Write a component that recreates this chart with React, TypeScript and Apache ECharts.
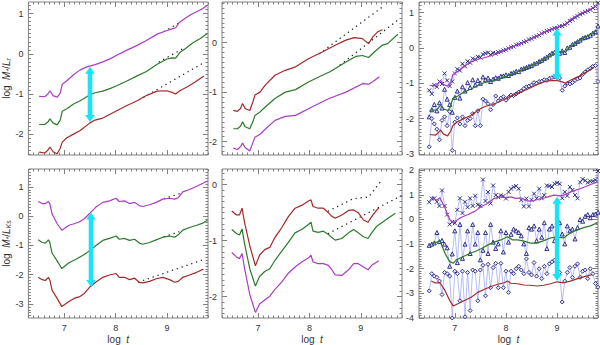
import React, { useEffect, useRef } from 'react';
import * as echarts from 'echarts';

// ---------- axes ----------
const X_MIN = 6.3;
const X_MAX = 9.8;
const xMajor = [7, 8, 9];
const yRanges = [
  [-2.52, 1.29], [-2.27, 0.82], [-3.03, 1.3],
  [-3.48, 1.61], [-2.38, 0.28], [-4.0, 2.05],
];
const yMajors = [
  [-2, -1, 0, 1], [-2, -1, 0], [-3, -2, -1, 0, 1],
  [-3, -2, -1, 0, 1], [-2, -1, 0], [-4, -3, -2, -1, 0, 1, 2],
];

// ---------- panel 1 (top-left, r band) ----------
const p1Purple = [[6.51,-1.06],[6.62,-1.07],[6.68,-1.0],[6.72,-0.92],[6.78,-1.04],[6.86,-1.08],[6.92,-0.98],[6.96,-0.76],[7.05,-0.67],[7.18,-0.52],[7.31,-0.40],[7.45,-0.32],[7.6,-0.27],[7.75,-0.2],[7.9,-0.12],[8.03,-0.03],[8.2,0.08],[8.42,0.21],[8.6,0.33],[8.81,0.49],[9.0,0.58],[9.1,0.62],[9.17,0.65],[9.24,0.78],[9.35,0.88],[9.47,0.98],[9.6,1.06],[9.7,1.13],[9.78,1.2]];
const p1Green = [[6.51,-1.76],[6.62,-1.76],[6.68,-1.7],[6.72,-1.62],[6.78,-1.72],[6.86,-1.77],[6.92,-1.65],[6.96,-1.43],[7.05,-1.37],[7.18,-1.25],[7.31,-1.17],[7.5,-1.02],[7.6,-0.97],[7.75,-0.93],[7.9,-0.86],[8.03,-0.79],[8.2,-0.69],[8.42,-0.55],[8.6,-0.44],[8.81,-0.26],[9.0,-0.13],[9.1,-0.1],[9.17,-0.11],[9.25,0.03],[9.35,0.12],[9.5,0.27],[9.65,0.38],[9.78,0.5]];
const p1Red = [[6.51,-2.45],[6.62,-2.47],[6.68,-2.4],[6.72,-2.32],[6.78,-2.44],[6.86,-2.49],[6.92,-2.35],[6.96,-2.2],[7.05,-2.09],[7.18,-2.0],[7.31,-1.91],[7.5,-1.72],[7.6,-1.65],[7.75,-1.6],[7.9,-1.5],[8.03,-1.41],[8.2,-1.3],[8.42,-1.17],[8.6,-1.04],[8.81,-0.93],[9.0,-0.92],[9.1,-0.96],[9.17,-1.0],[9.25,-0.92],[9.4,-0.82],[9.55,-0.7],[9.72,-0.55]];
const p1PurpleDot = [[8.95,0.56],[9.28,0.8]];
const p1GreenDot = [[8.85,-0.2],[9.3,0.12]];
const p1RedDot = [[8.55,-1.08],[9.72,-0.22]];

// ---------- panel 2 (top-middle) ----------
const p2Red = [[6.52,-1.37],[6.6,-1.39],[6.66,-1.33],[6.70,-1.23],[6.75,-1.33],[6.84,-1.37],[6.9,-1.2],[6.94,-1.06],[7.04,-1.0],[7.14,-0.86],[7.33,-0.66],[7.53,-0.56],[7.73,-0.49],[7.99,-0.32],[8.25,-0.19],[8.51,-0.05],[8.71,0.05],[8.87,0.1],[9.03,0.08],[9.11,0.01],[9.15,-0.02],[9.23,0.11],[9.33,0.22],[9.42,0.26]];
const p2Green = [[6.52,-1.74],[6.6,-1.74],[6.66,-1.69],[6.70,-1.60],[6.75,-1.7],[6.84,-1.74],[6.9,-1.6],[6.94,-1.47],[7.04,-1.40],[7.14,-1.3],[7.33,-1.13],[7.53,-1.0],[7.73,-0.95],[7.99,-0.79],[8.25,-0.66],[8.4,-0.59],[8.71,-0.39],[8.9,-0.28],[9.03,-0.26],[9.15,-0.30],[9.26,-0.19],[9.42,-0.05],[9.52,-0.02],[9.72,0.17]];
const p2Purple = [[6.52,-2.13],[6.6,-2.16],[6.66,-2.1],[6.70,-2.03],[6.75,-2.12],[6.84,-2.19],[6.9,-2.02],[6.94,-1.91],[7.04,-1.85],[7.14,-1.75],[7.33,-1.57],[7.53,-1.49],[7.73,-1.47],[7.99,-1.33],[8.38,-1.13],[8.71,-1.0],[9.03,-0.83],[9.15,-0.84],[9.23,-0.79],[9.36,-0.69]];
const p2RedDot = [[8.2,-0.22],[9.42,0.72]];
const p2GreenDot = [[8.6,-0.45],[9.75,0.48]];

// ---------- panel 4 (bottom-left, Ks band) ----------
const p4Purple = [[6.49,0.5],[6.57,0.43],[6.63,0.43],[6.69,0.5],[6.72,0.41],[6.76,0.08],[6.86,-0.26],[6.95,-0.48],[7.0,-0.42],[7.09,-0.31],[7.19,-0.26],[7.29,-0.2],[7.39,-0.09],[7.5,0.1],[7.61,0.3],[7.75,0.47],[7.88,0.52],[8.01,0.61],[8.07,0.5],[8.17,0.52],[8.27,0.43],[8.37,0.47],[8.46,0.36],[8.53,0.33],[8.66,0.39],[8.79,0.47],[8.92,0.58],[9.05,0.61],[9.15,0.58],[9.22,0.63],[9.31,0.83],[9.44,0.91],[9.58,1.02],[9.71,1.13],[9.79,1.2]];
const p4Green = [[6.49,-0.81],[6.57,-0.9],[6.63,-0.92],[6.69,-0.81],[6.72,-0.92],[6.76,-1.26],[6.86,-1.53],[6.95,-1.79],[7.0,-1.72],[7.09,-1.59],[7.22,-1.48],[7.39,-1.31],[7.5,-1.17],[7.61,-1.01],[7.75,-0.83],[7.88,-0.76],[8.01,-0.68],[8.07,-0.79],[8.17,-0.76],[8.27,-0.83],[8.37,-0.79],[8.46,-0.92],[8.53,-0.96],[8.66,-0.9],[8.79,-0.81],[8.92,-0.72],[9.05,-0.68],[9.15,-0.72],[9.22,-0.64],[9.31,-0.48],[9.44,-0.39],[9.58,-0.31],[9.71,-0.23],[9.79,-0.14]];
const p4Red = [[6.49,-2.09],[6.57,-2.17],[6.63,-2.2],[6.69,-2.09],[6.72,-2.2],[6.76,-2.53],[6.86,-2.81],[6.95,-3.09],[7.0,-3.03],[7.09,-2.92],[7.19,-2.81],[7.29,-2.76],[7.39,-2.64],[7.5,-2.42],[7.61,-2.26],[7.75,-2.09],[7.88,-2.01],[8.01,-1.96],[8.07,-2.09],[8.17,-2.09],[8.27,-2.17],[8.37,-2.12],[8.46,-2.26],[8.53,-2.28],[8.66,-2.23],[8.79,-2.14],[8.92,-2.09],[9.05,-2.17],[9.15,-2.26],[9.22,-2.23],[9.31,-2.09],[9.44,-2.01],[9.58,-1.92],[9.71,-1.81]];
const p4PurpleDot = [[8.95,0.6],[9.3,0.8]];
const p4GreenDot = [[8.95,-0.7],[9.3,-0.5]];
const p4RedDot = [[8.45,-2.25],[9.72,-1.48]];

// ---------- panel 5 (bottom-middle) ----------
const p5Red = [[6.49,-0.47],[6.58,-0.54],[6.64,-0.54],[6.69,-0.42],[6.74,-0.68],[6.84,-1.09],[6.95,-1.45],[7.03,-1.26],[7.13,-1.16],[7.23,-1.12],[7.33,-0.94],[7.46,-0.77],[7.59,-0.57],[7.72,-0.42],[7.85,-0.37],[7.98,-0.29],[8.03,-0.27],[8.07,-0.39],[8.17,-0.42],[8.27,-0.42],[8.37,-0.5],[8.43,-0.56],[8.5,-0.6],[8.63,-0.54],[8.76,-0.46],[8.86,-0.45],[8.95,-0.5],[9.05,-0.63],[9.14,-0.67],[9.21,-0.57],[9.31,-0.45],[9.35,-0.42]];
const p5Green = [[6.49,-0.8],[6.58,-0.87],[6.64,-0.9],[6.69,-0.79],[6.74,-1.06],[6.84,-1.5],[6.95,-1.81],[7.03,-1.64],[7.13,-1.55],[7.23,-1.5],[7.33,-1.35],[7.46,-1.19],[7.59,-1.03],[7.72,-0.86],[7.85,-0.8],[7.98,-0.71],[8.03,-0.67],[8.07,-0.83],[8.17,-0.85],[8.27,-0.83],[8.37,-0.89],[8.43,-0.94],[8.5,-0.99],[8.63,-0.96],[8.76,-0.86],[8.86,-0.8],[8.95,-0.86],[9.05,-0.93],[9.14,-0.96],[9.21,-0.86],[9.31,-0.74],[9.48,-0.63],[9.67,-0.51]];
const p5Purple = [[6.49,-1.21],[6.58,-1.29],[6.64,-1.32],[6.69,-1.23],[6.74,-1.5],[6.84,-1.96],[6.95,-2.28],[7.03,-2.13],[7.13,-2.06],[7.23,-1.99],[7.33,-1.87],[7.46,-1.74],[7.59,-1.58],[7.72,-1.47],[7.85,-1.38],[7.98,-1.31],[8.03,-1.26],[8.07,-1.38],[8.17,-1.41],[8.27,-1.41],[8.37,-1.44],[8.43,-1.51],[8.5,-1.61],[8.63,-1.62],[8.76,-1.52],[8.86,-1.41],[8.95,-1.41],[9.05,-1.47],[9.14,-1.52],[9.21,-1.44],[9.35,-1.36]];
const p5RedDot = [[8.37,-0.47],[8.85,-0.25],[9.15,-0.22],[9.37,0.04]];
const p5GreenDot = [[8.37,-0.87],[9.78,-0.2]];

// ---------- panel 6 curves (bottom-right) ----------
const p6Purple = [[6.54,0.88],[6.65,0.79],[6.71,0.88],[6.81,0.46],[6.9,0.0],[6.97,-0.13],[7.03,-0.04],[7.13,0.09],[7.26,0.2],[7.39,0.33],[7.52,0.53],[7.65,0.66],[7.77,0.86],[7.9,0.92],[8.0,0.88],[8.1,0.92],[8.19,0.86],[8.29,0.88],[8.42,0.75],[8.52,0.75],[8.65,0.83],[8.77,0.89],[8.94,0.99],[9.06,0.96],[9.16,1.01],[9.29,1.14],[9.45,1.25],[9.61,1.38],[9.77,1.51]];
const p6Green = [[6.54,-0.99],[6.65,-0.92],[6.71,-0.86],[6.81,-1.38],[6.9,-1.71],[6.97,-1.78],[7.03,-1.64],[7.16,-1.51],[7.29,-1.38],[7.42,-1.28],[7.52,-1.18],[7.65,-1.03],[7.77,-0.92],[7.9,-0.83],[8.03,-0.7],[8.13,-0.83],[8.23,-0.83],[8.35,-0.88],[8.48,-0.96],[8.61,-0.96],[8.74,-0.86],[8.87,-0.75],[9.0,-0.72],[9.13,-0.75],[9.23,-0.59],[9.35,-0.46],[9.52,-0.33],[9.65,-0.26],[9.79,-0.13]];
const p6Red = [[6.54,-2.5],[6.61,-2.57],[6.71,-2.57],[6.81,-2.89],[6.9,-3.29],[6.97,-3.51],[7.06,-3.42],[7.19,-3.29],[7.32,-3.16],[7.45,-2.96],[7.58,-2.83],[7.71,-2.72],[7.84,-2.63],[7.97,-2.57],[8.03,-2.5],[8.1,-2.59],[8.23,-2.61],[8.35,-2.66],[8.48,-2.67],[8.61,-2.7],[8.74,-2.67],[8.87,-2.61],[9.0,-2.53],[9.13,-2.57],[9.26,-2.5],[9.39,-2.41],[9.52,-2.33],[9.68,-2.24]];

// ---------- scatter samples (panels 3 and 6) ----------
const tS = [
  6.50,6.55,6.60,6.65,6.70,6.75,6.80,6.85,6.90,6.95,
  7.00,7.05,7.10,7.15,7.20,7.25,7.30,7.35,7.40,7.45,
  7.50,7.55,7.60,7.65,7.70,7.75,7.80,7.85,7.90,7.95,
  8.00,8.05,8.10,8.15,8.20,8.25,8.30,8.35,8.40,8.45,
  8.50,8.55,8.60,8.65,8.70,8.75,8.80,8.85,8.90,8.95,
  9.00,9.05,9.10,9.15,9.20,9.25,9.30,9.35,9.40,9.45,
  9.50,9.55,9.60,9.65,9.70,9.75,9.80,
];
const p3Cross = [
  -1.2,-1.3,-1.05,-1.1,-0.95,-1.02,-0.72,-0.92,-1.08,-0.95,
  -0.72,-0.6,-0.64,-0.45,-0.52,-0.38,-0.42,-0.3,-0.33,-0.25,
  -0.27,-0.18,-0.15,-0.13,-0.19,-0.14,-0.16,-0.12,-0.1,-0.07,
  -0.05,-0.01,0.02,0.04,0.09,0.1,0.13,0.17,0.19,0.24,
  0.26,0.3,0.33,0.36,0.41,0.44,0.48,0.5,0.53,0.56,
  0.57,0.61,0.62,0.66,0.7,0.76,0.8,0.86,0.9,0.95,
  0.98,1.02,1.05,1.08,1.13,1.17,1.28,
];
const p3Tri = [
  -1.95,-1.75,-1.6,-1.78,-1.55,-1.7,-1.17,-1.45,-1.6,-1.82,
  -1.4,-1.22,-1.42,-1.1,-1.22,-0.98,-1.12,-0.9,-1.05,-0.92,
  -1.0,-0.82,-0.9,-0.85,-0.95,-0.88,-0.84,-0.86,-0.8,-0.79,
  -0.76,-0.78,-0.72,-0.7,-0.66,-0.67,-0.6,-0.58,-0.55,-0.52,
  -0.5,-0.45,-0.43,-0.38,-0.35,-0.3,-0.26,-0.2,-0.15,-0.12,
  -0.1,-0.15,-0.08,-0.13,0.0,0.02,0.1,0.13,0.18,0.22,
  0.28,0.3,0.32,0.36,0.42,0.46,0.62,
];
const p3Dia = [
  -2.8,-2.0,-2.15,-2.3,-2.6,-2.05,-1.95,-2.2,-1.8,-2.9,
  -2.1,-1.98,-2.15,-1.95,-2.2,-2.05,-2.0,-1.86,-2.2,-1.78,
  -2.2,-1.45,-1.5,-1.58,-1.75,-1.6,-1.36,-1.5,-1.42,-1.38,
  -1.48,-1.4,-1.33,-1.35,-1.3,-1.25,-1.22,-1.15,-1.1,-1.08,
  -1.05,-0.98,-1.0,-0.95,-0.94,-0.9,-0.92,-0.86,-0.84,-0.82,
  -0.84,-0.85,-1.2,-1.08,-1.0,-1.02,-0.98,-0.92,-0.88,-0.85,
  -0.75,-0.68,-0.62,-0.58,-0.52,-0.5,-0.95,
];
const p6Cross = [
  0.7,0.85,0.86,0.72,0.55,1.18,0.55,0.2,-0.2,-0.1,
  -0.15,0.39,0.86,0.26,0.72,0.5,0.86,0.55,0.96,0.6,
  0.55,1.62,0.75,1.12,0.65,1.38,0.99,0.9,0.98,0.95,
  0.85,1.12,1.25,1.32,1.36,1.25,0.79,0.53,0.85,0.53,
  0.8,1.05,0.86,1.25,0.86,0.99,1.38,1.36,1.32,1.45,
  1.49,1.45,0.86,1.12,0.96,1.32,1.2,0.99,0.86,1.51,
  1.64,1.58,1.5,1.55,1.55,1.6,1.97,
];
const p6Tri = [
  -1.05,-1.0,-0.95,-0.53,-0.9,-0.85,-1.0,-1.15,-1.9,-1.4,
  -0.46,-1.75,-0.2,-1.58,-1.0,-0.46,-1.38,-0.2,-1.0,-0.53,
  -1.64,-1.25,-0.53,-1.38,-0.2,-0.92,-1.18,-0.99,-0.46,-1.32,
  -0.53,-0.92,-0.6,-0.39,-0.46,-0.53,-0.66,-0.99,-1.38,-0.33,
  -0.39,-0.26,-0.86,-0.39,-0.72,-0.13,-1.18,-0.39,-0.26,-0.86,
  -0.2,-0.13,-0.59,-0.99,-0.26,-0.46,-0.39,-0.79,-0.33,0.0,
  -0.07,0.13,0.2,0.07,0.2,0.22,0.3,
];
const p6Dia = [
  -2.9,-2.2,-2.3,-2.35,-2.5,-3.05,-2.15,-2.2,-2.3,-4.0,
  -2.1,-2.2,-3.3,-2.1,-3.95,-2.15,-3.7,-2.05,-2.1,-3.3,
  -2.05,-1.86,-3.1,-1.82,-2.77,-1.95,-1.78,-2.77,-1.78,-2.77,
  -2.1,-2.96,-2.1,-2.2,-2.0,-1.9,-2.05,-2.2,-1.6,-2.15,
  -2.25,-1.75,-2.3,-2.0,-2.4,-1.9,-2.2,-1.8,-1.72,-1.65,
  -1.75,-2.15,-3.35,-2.5,-2.15,-1.95,-2.35,-1.9,-1.8,-2.35,
  -2.1,-2.05,-2.4,-2.0,-2.2,-2.6,-2.75,
];

// ---------- arrows: [panel, t, top, bottom] ----------
const arrows = [
  [0, 7.5, -0.32, -1.7],
  [2, 9.0, 0.55, -0.93],
  [3, 7.52, 0.12, -2.42],
  [5, 9.0, 0.92, -2.5],
];

// ---------- styling ----------
const PURPLE = '#a83ec0';
const GREEN = '#2c7a2c';
const RED = '#a32a2a';
const FRAME = '#808080';
const FONT = 'Liberation Sans';
const gridRects = [
  { left: 25, top: 2, width: 183, height: 153 },
  { left: 222, top: 2, width: 180, height: 153 },
  { left: 419, top: 2, width: 179, height: 153 },
  { left: 25, top: 169, width: 183, height: 153 },
  { left: 222, top: 169, width: 180, height: 153 },
  { left: 419, top: 169, width: 179, height: 153 },
];

function minorValues(a: number, b: number, step: number, majors: number[]) {
  const out: number[] = [];
  for (let k = Math.ceil(a / step - 1e-9); k * step <= b + 1e-9; k++) {
    const v = +(k * step).toFixed(3);
    if (!majors.some((m) => Math.abs(m - v) < 1e-6)) out.push(v);
  }
  return out;
}

const rich = {
  a: { fontFamily: FONT, fontSize: 10, color: '#333' },
  i: { fontFamily: FONT, fontSize: 10, fontStyle: 'italic', color: '#333' },
  s: { fontFamily: FONT, fontSize: 7, fontStyle: 'italic', color: '#333', padding: [4, 0, 0, 0] },
};

function buildOption() {
  const grid: any[] = [];
  const xAxis: any[] = [];
  const yAxis: any[] = [];
  const series: any[] = [];
  const xMinor = minorValues(X_MIN, X_MAX, 0.1, xMajor);

  gridRects.forEach((r, g) => {
    grid.push({ ...r, show: true, borderColor: FRAME, borderWidth: 1, backgroundColor: 'transparent' });
    const bottomRow = g >= 3;
    const [ymin, ymax] = yRanges[g];
    const yMaj = yMajors[g];
    const yMin = minorValues(ymin, ymax, 0.1, yMaj);
    const noLine = { show: false, onZero: false };
    const xc = { type: 'value', gridIndex: g, min: X_MIN, max: X_MAX, splitLine: { show: false }, axisLine: noLine };
    const yc = { type: 'value', gridIndex: g, min: ymin, max: ymax, splitLine: { show: false }, axisLine: noLine };
    const tickMaj = (vals: number[]) => ({ show: true, inside: true, length: 5, customValues: vals, lineStyle: { color: FRAME, width: 1 } });
    const tickMin = (vals: number[]) => ({ show: true, inside: true, length: 2.5, customValues: vals, lineStyle: { color: FRAME, width: 1 } });
    xAxis.push({
      ...xc, position: 'bottom', axisTick: tickMaj(xMajor),
      axisLabel: { show: bottomRow, customValues: xMajor, fontFamily: FONT, fontSize: 9, color: '#333', margin: 5 },
      name: bottomRow ? '{a|log  }{i|t}' : '', nameLocation: 'middle', nameGap: 16,
      nameTextStyle: { rich },
    });
    xAxis.push({ ...xc, position: 'bottom', axisTick: tickMin(xMinor), axisLabel: { show: false } });
    xAxis.push({ ...xc, position: 'top', axisTick: tickMaj(xMajor), axisLabel: { show: false } });
    xAxis.push({ ...xc, position: 'top', axisTick: tickMin(xMinor), axisLabel: { show: false } });

    const leftCol = g === 0 || g === 3;
    yAxis.push({
      ...yc, position: 'left', axisTick: tickMaj(yMaj),
      axisLabel: { show: true, customValues: yMaj, fontFamily: FONT, fontSize: 9, color: '#333', margin: 5 },
      name: leftCol ? (g === 0 ? '{a|log  }{i|M}{s|*}{a|/}{i|L}{s|r}' : '{a|log  }{i|M}{s|*}{a|/}{i|L}{s|Ks}') : '',
      nameLocation: 'middle', nameGap: 15, nameRotate: 90,
      nameTextStyle: { rich },
    });
    yAxis.push({ ...yc, position: 'left', axisTick: tickMin(yMin), axisLabel: { show: false } });
    yAxis.push({ ...yc, position: 'right', axisTick: tickMaj(yMaj), axisLabel: { show: false } });
    yAxis.push({ ...yc, position: 'right', axisTick: tickMin(yMin), axisLabel: { show: false } });
  });

  const ax = (g: number) => ({ xAxisIndex: g * 4, yAxisIndex: g * 4 });
  const solid = (g: number, data: number[][], color: string) => ({
    type: 'line', ...ax(g), data, showSymbol: false, symbol: 'none', silent: true,
    lineStyle: { color, width: 1.2 }, z: 3,
  });
  const dotted = (g: number, data: number[][]) => ({
    type: 'line', ...ax(g), data, showSymbol: false, symbol: 'none', silent: true,
    lineStyle: { color: '#222', width: 1.4, type: [0.1, 5], cap: 'round' }, z: 2,
  });
  const scatter = (g: number, vals: number[], symbol: string) => ({
    type: 'line', ...ax(g), data: tS.map((t, i) => [t, vals[i]]),
    symbol, symbolSize: 4, showSymbol: true, silent: true,
    lineStyle: { color: '#a3acf0', width: 0.8 },
    itemStyle: { color: '#e6e8ff', borderColor: '#1e1e80', borderWidth: 0.9 }, z: 4,
  });
  const CROSS = 'path://M0,0L10,10M10,0L0,10';

  // panel 1
  series.push(dotted(0, p1PurpleDot), dotted(0, p1GreenDot), dotted(0, p1RedDot));
  series.push(solid(0, p1Purple, PURPLE), solid(0, p1Green, GREEN), solid(0, p1Red, RED));
  // panel 2
  series.push(dotted(1, p2RedDot), dotted(1, p2GreenDot));
  series.push(solid(1, p2Red, RED), solid(1, p2Green, GREEN), solid(1, p2Purple, PURPLE));
  // panel 3
  series.push(scatter(2, p3Cross, CROSS), scatter(2, p3Tri, 'triangle'), scatter(2, p3Dia, 'diamond'));
  series.push({ ...solid(2, p1Purple, PURPLE), z: 5 }, { ...solid(2, p1Green, GREEN), z: 5 }, { ...solid(2, p1Red, RED), z: 5 });
  // panel 4
  series.push(dotted(3, p4PurpleDot), dotted(3, p4GreenDot), dotted(3, p4RedDot));
  series.push(solid(3, p4Purple, PURPLE), solid(3, p4Green, GREEN), solid(3, p4Red, RED));
  // panel 5
  series.push(dotted(4, p5RedDot), dotted(4, p5GreenDot));
  series.push(solid(4, p5Red, RED), solid(4, p5Green, GREEN), solid(4, p5Purple, PURPLE));
  // panel 6
  series.push(scatter(5, p6Cross, CROSS), scatter(5, p6Tri, 'triangle'), scatter(5, p6Dia, 'diamond'));
  series.push({ ...solid(5, p6Purple, PURPLE), z: 5 }, { ...solid(5, p6Green, GREEN), z: 5 }, { ...solid(5, p6Red, RED), z: 5 });

  // arrows
  arrows.forEach((a) => {
    const g = a[0];
    series.push({
      type: 'custom', ...ax(g), silent: true, z: 10,
      data: [[a[1], a[2], a[3]]],
      renderItem: (params: any, api: any) => {
        const p1 = api.coord([api.value(0), api.value(1)]);
        const p2 = api.coord([api.value(0), api.value(2)]);
        const x = p1[0];
        const y1 = p1[1];
        const y2 = p2[1];
        const hw = 2.3, hh = 4.8, hl = 7;
        const points = [
          [x, y1], [x + hh, y1 + hl], [x + hw, y1 + hl], [x + hw, y2 - hl], [x + hh, y2 - hl],
          [x, y2], [x - hh, y2 - hl], [x - hw, y2 - hl], [x - hw, y1 + hl], [x - hh, y1 + hl],
        ];
        return { type: 'polygon', shape: { points }, style: { fill: '#18e4f5' } };
      },
    });
  });

  return {
    animation: false,
    backgroundColor: '#ffffff',
    textStyle: { fontFamily: FONT },
    grid, xAxis, yAxis, series,
  };
}

export default function App() {
  const ref = useRef<HTMLDivElement>(null);
  useEffect(() => {
    if (!ref.current) return;
    const chart = echarts.init(ref.current, undefined, { renderer: 'svg' });
    chart.setOption(buildOption() as any);
    return () => chart.dispose();
  }, []);
  return <div ref={ref} style={{ position: 'fixed', left: 0, top: 0, width: 600, height: 345 }} />;
}
